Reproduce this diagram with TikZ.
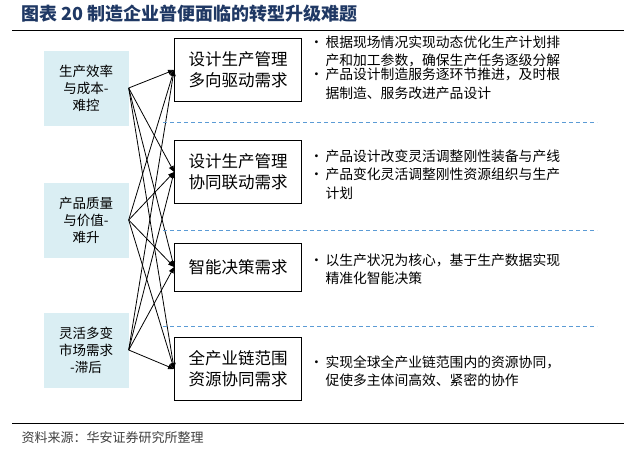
\documentclass[tikz,border=0pt]{standalone}
\usepackage{fontspec}
\setmainfont{Noto Sans CJK SC}
\usetikzlibrary{arrows.meta}
\definecolor{tblue}{HTML}{1F3864}
\definecolor{lblue}{HTML}{DAEEF3}
\definecolor{dblue}{HTML}{5B9BD5}
\newcommand{\bp}[1]{\makebox[16pt][l]{•}\parbox[t]{290pt}{#1}\par}
\begin{document}
\begin{tikzpicture}[x=1pt,y=-1pt,
 lbox/.style={fill=lblue,draw=none,minimum width=85pt,minimum height=75pt,align=center,font=\fontsize{13.5}{17}\selectfont},
 rbox/.style={draw=black,thick,fill=white,minimum width=127pt,minimum height=63pt,align=center,font=\fontsize{16.5}{21}\selectfont},
 btxt/.style={anchor=north west,align=left,font=\fontsize{13.8}{18.5}\selectfont,text width=320pt},
 arr/.style={-{Triangle[length=6pt,width=5pt]},thick},
 dsh/.style={dashed,dblue,thick,dash pattern=on 4pt off 3pt}]
\useasboundingbox (0,0) rectangle (640,463);
\node[anchor=west,font=\fontsize{18}{20}\bfseries\selectfont,text=tblue] (t) at (18,14) {图表 20 制造企业普便面临的转型升级难题};
\draw[thick] (12,30) -- (624,30);
\node[lbox] (l1) at (86,88) {生产效率\\与成本-\\难控};
\node[lbox] (l2) at (86,220) {产品质量\\与价值-\\难升};
\node[lbox] (l3) at (86,350) {灵活多变\\市场需求\\-滞后};
\node[rbox] (r1) at (238,70) {设计生产管理\\多向驱动需求};
\node[rbox] (r2) at (238,172) {设计生产管理\\协同联动需求};
\node[rbox,minimum height=48pt] (r3) at (238,267) {智能决策需求};
\node[rbox] (r4) at (238,369) {全产业链范围\\资源协同需求};
\foreach \l in {l1,l2,l3}\foreach \r in {r1,r2,r3,r4}\draw[arr] (\l.east) -- (\r.west);
\draw[dsh] (163,122) -- (597,122);
\draw[dsh] (163,230) -- (597,230);
\draw[dsh] (163,326) -- (597,326);
\node[btxt] (b1) at (306,32) {\bp{根据现场情况实现动态优化生产计划排\\产和加工参数，确保生产任务逐级分解}\bp{产品设计制造服务逐环节推进，及时根\\据制造、服务改进产品设计}};
\node[btxt] (b2) at (306,146) {\bp{产品设计改变灵活调整刚性装备与产线}\bp{产品变化灵活调整刚性资源组织与生产\\计划}};
\node[btxt] (b3) at (306,250) {\bp{以生产状况为核心，基于生产数据实现\\精准化智能决策}};
\node[btxt] (b4) at (306,352) {\bp{实现全球全产业链范围内的资源协同，\\促使多主体间高效、紧密的协作}};
\draw[thick] (12,423) -- (624,423);
\node[anchor=west,font=\fontsize{13}{15}\selectfont,text=black!75] (s) at (18,438) {资料来源：华安证券研究所整理};
\end{tikzpicture}
\end{document}
